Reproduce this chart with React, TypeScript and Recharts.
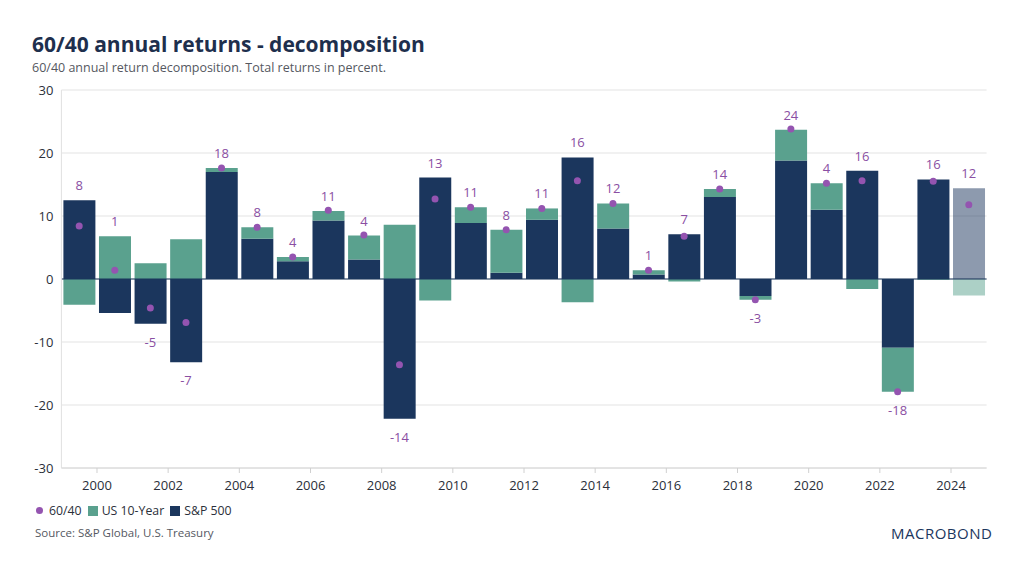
import { ComposedChart, Bar, Line, XAxis, YAxis, CartesianGrid, ReferenceLine, LabelList, Cell } from "recharts";

const years = [
  "1999", "2000", "2001", "2002", "2003", "2004", "2005", "2006", "2007", "2008", "2009", "2010", "2011",
  "2012", "2013", "2014", "2015", "2016", "2017", "2018", "2019", "2020", "2021", "2022", "2023", "2024",
];

// weighted contributions (60% S&P 500, 40% US 10-year)
const sp500 = [
  12.5, -5.4, -7.1, -13.2, 17.0, 6.4, 2.8, 9.3, 3.1, -22.2, 16.1, 8.9, 1.0,
  9.4, 19.3, 8.0, 0.7, 7.1, 13.0, -2.7, 18.8, 11.0, 17.2, -10.9, 15.8, 14.4,
];
const us10y = [
  -4.1, 6.8, 2.5, 6.3, 0.6, 1.8, 0.7, 1.5, 3.8, 8.6, -3.4, 2.5, 6.8,
  1.8, -3.7, 4.0, 0.7, -0.4, 1.3, -0.6, 4.9, 4.2, -1.6, -7.0, -0.1, -2.6,
];
const portfolio = [
  8.4, 1.4, -4.6, -6.9, 17.6, 8.2, 3.5, 10.9, 7.0, -13.6, 12.7, 11.4, 7.8,
  11.2, 15.6, 12.0, 1.4, 6.8, 14.3, -3.3, 23.8, 15.2, 15.6, -17.9, 15.5, 11.8,
];
const totalLabels = [
  "8", "1", "-5", "-7", "18", "8", "4", "11", "4", "-14", "13", "11", "8",
  "11", "16", "12", "1", "7", "14", "-3", "24", "4", "16", "-18", "16", "12",
];
const yTicks = [-30, -20, -10, 0, 10, 20, 30];

const NAVY = "#1b365d";
const TEAL = "#5aa18e";
const PURPLE = "#9454b0";
const FONT = '"Open Sans", sans-serif';

const CHART_W = 1024;
const CHART_H = 500;
const Y_AXIS_W = 61.4;
const RIGHT = 37.4;
const band = (CHART_W - Y_AXIS_W - RIGHT) / years.length;

const data = years.map((year, i) => {
  const neg = totalLabels[i].startsWith("-");
  const anchor = neg
    ? Math.min(0, sp500[i]) + Math.min(0, us10y[i])
    : Math.max(0, sp500[i]) + Math.max(0, us10y[i]);
  return { year, sp500: sp500[i], us10y: us10y[i], total: portfolio[i], label: totalLabels[i], anchor };
});

const lastIdx = years.length - 1;

const YearTick = (props: any) => {
  const { x, y, payload } = props;
  if (Number(payload.value) % 2 !== 0) return <g />;
  const tx = x - band / 2;
  return (
    <g>
      <line x1={tx} x2={tx} y1={y} y2={y + 5} stroke="#d0d0d0" />
      <text x={tx} y={y + 17} textAnchor="middle" dominantBaseline="central" fill="#2b2f3a" fontSize={13} fontFamily={FONT}>
        {payload.value}
      </text>
    </g>
  );
};

const TotalLabel = (props: any) => {
  const { x, y, value } = props;
  const neg = String(value).startsWith("-");
  return (
    <text x={x} y={neg ? y + 18 : y - 15} textAnchor="middle" dominantBaseline="central" fill="#8a4fa3" fontSize={13} fontFamily={FONT}>
      {value}
    </text>
  );
};

const LegendRow = () => (
  <div style={{ position: "absolute", left: 36, top: 502, display: "flex", alignItems: "center", fontSize: 12.3, color: "#2b2f3a" }}>
    <span style={{ width: 7, height: 7, borderRadius: "50%", background: PURPLE, marginRight: 6 }} />
    <span style={{ marginRight: 6 }}>60/40</span>
    <span style={{ width: 10, height: 10, background: TEAL, marginRight: 4 }} />
    <span style={{ marginRight: 6 }}>US 10-Year</span>
    <span style={{ width: 10, height: 10, background: NAVY, marginRight: 4 }} />
    <span>S&amp;P 500</span>
  </div>
);

export default function App() {
  return (
    <div style={{ position: "absolute", left: 0, top: 0, width: 1024, height: 576, background: "#fff", fontFamily: FONT, overflow: "hidden" }}>
      <ComposedChart
        width={CHART_W}
        height={CHART_H}
        data={data}
        stackOffset="sign"
        barCategoryGap={2}
        margin={{ top: 90, right: RIGHT, left: 0, bottom: 2 }}
      >
        <CartesianGrid vertical={false} stroke="#e3e3e3" />
        <XAxis
          dataKey="year"
          interval={0}
          tickSize={0}
          tickMargin={0}
          tickLine={false}
          axisLine={{ stroke: "#d6d6d6" }}
          height={30}
          tick={YearTick}
        />
        <YAxis
          domain={[-30, 30]}
          ticks={yTicks}
          width={Y_AXIS_W}
          tickLine={false}
          axisLine={{ stroke: "#e0e0e0" }}
          tick={{ fill: "#2b2f3a", fontSize: 13, fontFamily: FONT }}
          interval={0}
        />
        <Bar dataKey="sp500" stackId="a" fill={NAVY} isAnimationActive={false}>
          {data.map((d, i) => (
            <Cell key={d.year} fill={NAVY} fillOpacity={i === lastIdx ? 0.5 : 1} />
          ))}
        </Bar>
        <Bar dataKey="us10y" stackId="a" fill={TEAL} isAnimationActive={false}>
          {data.map((d, i) => (
            <Cell key={d.year} fill={TEAL} fillOpacity={i === lastIdx ? 0.5 : 1} />
          ))}
        </Bar>
        <ReferenceLine y={0} stroke={NAVY} strokeWidth={1.2} />
        <Line dataKey="anchor" stroke="none" dot={false} activeDot={false} isAnimationActive={false}>
          <LabelList dataKey="label" content={TotalLabel} />
        </Line>
        <Line
          dataKey="total"
          stroke="none"
          dot={{ r: 3.5, fill: PURPLE, stroke: "none" }}
          activeDot={false}
          isAnimationActive={false}
        />
      </ComposedChart>

      <div style={{ position: "absolute", left: 32, top: 30, fontSize: 21, fontWeight: 700, color: "#1e2f4d", lineHeight: "28px" }}>
        60/40 annual returns - decomposition
      </div>
      <div style={{ position: "absolute", left: 32, top: 59, fontSize: 12.5, color: "#55585f", lineHeight: "18px" }}>
        60/40 annual return decomposition. Total returns in percent.
      </div>
      <LegendRow />
      <div style={{ position: "absolute", left: 35, top: 525, fontSize: 11.5, color: "#55585f", lineHeight: "16px" }}>
        Source: S&amp;P Global, U.S. Treasury
      </div>
      <div style={{ position: "absolute", left: 891, top: 524, fontSize: 15, color: NAVY, letterSpacing: 0.5, lineHeight: "18px" }}>
        MACROBOND
      </div>
    </div>
  );
}
